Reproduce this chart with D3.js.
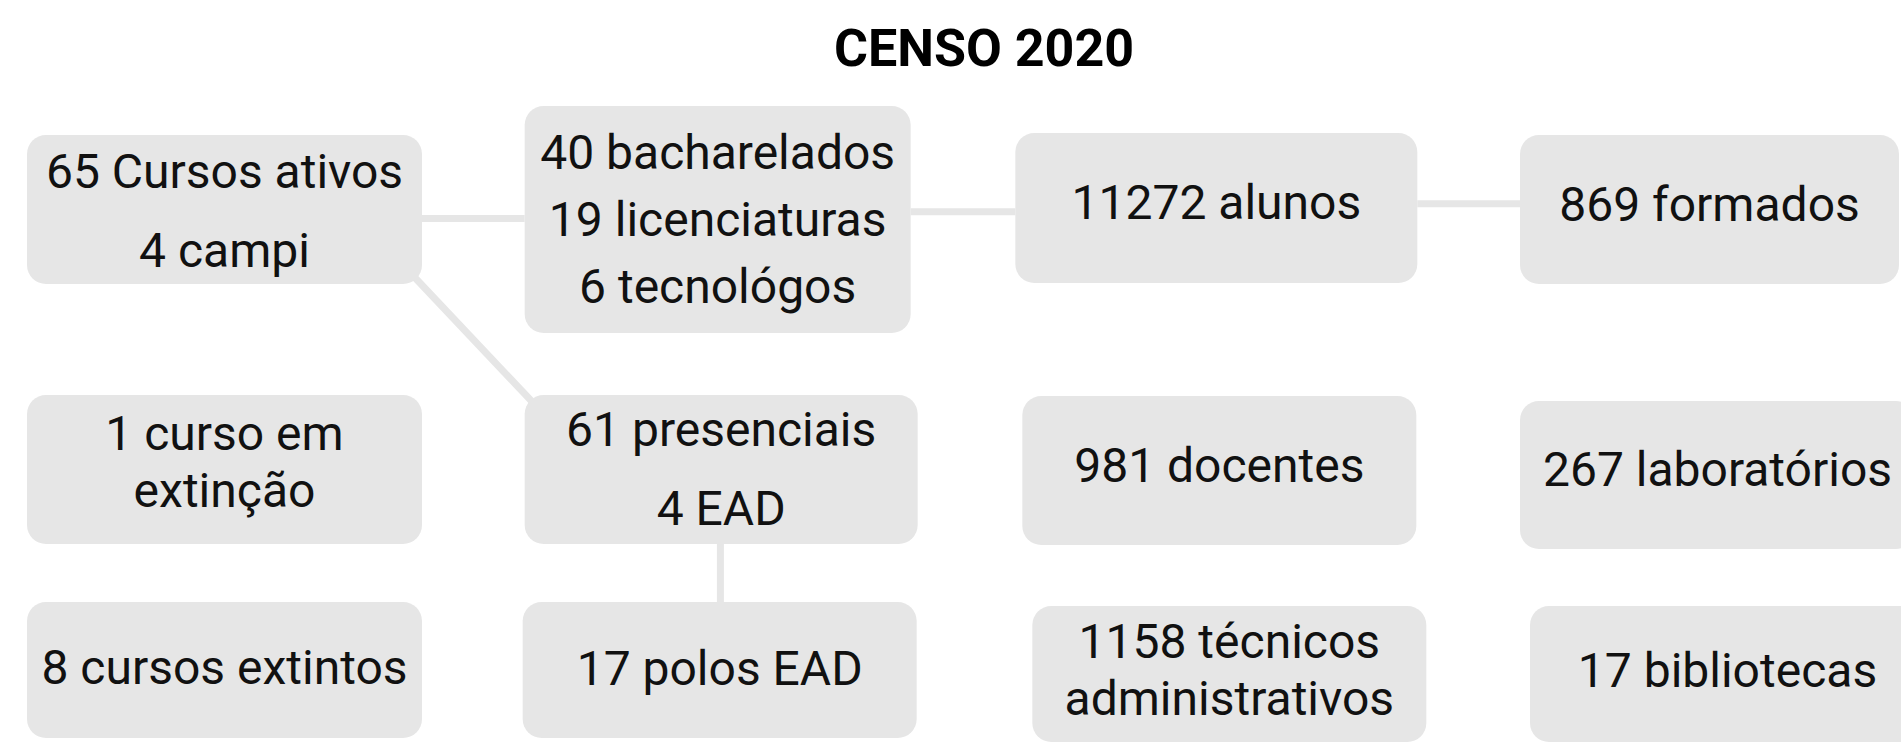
<!DOCTYPE html>
<html>
<head>
<meta charset="utf-8">
<script src="https://cdn.jsdelivr.net/npm/d3@7"></script>
<style>
  html, body { margin: 0; padding: 0; background: #fff; overflow: hidden; }
  text { font-family: Roboto, "Noto Sans", sans-serif; }
</style>
</head>
<body>
<div id="chart"></div>
<script>
// data
var title = "CENSO 2020";

var nodeIds = ["cursos", "tipos", "alunos", "formados",
               "extincao", "modalidade", "docentes", "laboratorios",
               "extintos", "polos", "tecnicos", "bibliotecas"];

var nodeLabels = [
    ["65 Cursos ativos", "4 campi"],
    ["40 bacharelados", "19 licenciaturas", "6 tecnológos"],
    ["11272 alunos"],
    ["869 formados"],
    ["1 curso em", "extinção"],
    ["61 presenciais", "4 EAD"],
    ["981 docentes"],
    ["267 laboratórios"],
    ["8 cursos extintos"],
    ["17 polos EAD"],
    ["1158 técnicos", "administrativos"],
    ["17 bibliotecas"]
];

var links = [
    ["cursos", "tipos"],
    ["tipos", "alunos"],
    ["alunos", "formados"],
    ["cursos", "modalidade"],
    ["modalidade", "polos"]
];
var linkShift = [4, -2, -5, 0, 0];

// layout (grid cell + small nudges)
var layout = [
    {col: 0, row: 0, dx: 0,  dy: 0,   w: 395, h: 149, lh: 79, ty: 1},
    {col: 1, row: 0, dx: 0,  dy: -29, w: 386, h: 227, lh: 67, ty: -1},
    {col: 2, row: 0, dx: -7, dy: -2,  w: 402, h: 150, lh: 57, ty: -6},
    {col: 3, row: 0, dx: 0,  dy: 0,   w: 379, h: 149, lh: 57, ty: -6},
    {col: 0, row: 1, dx: 0,  dy: 0,   w: 395, h: 149, lh: 57, ty: -8},
    {col: 1, row: 1, dx: 0,  dy: 0,   w: 393, h: 149, lh: 79, ty: -1},
    {col: 2, row: 1, dx: 0,  dy: 1,   w: 394, h: 149, lh: 57, ty: -6},
    {col: 3, row: 1, dx: 0,  dy: 6,   w: 395, h: 148, lh: 57, ty: -6},
    {col: 0, row: 2, dx: 0,  dy: 0,   w: 395, h: 136, lh: 57, ty: -3},
    {col: 1, row: 2, dx: -2, dy: 0,   w: 394, h: 136, lh: 57, ty: -2},
    {col: 2, row: 2, dx: 10, dy: 4,   w: 394, h: 136, lh: 57, ty: -5},
    {col: 3, row: 2, dx: 10, dy: 4,   w: 395, h: 136, lh: 57, ty: -4}
];

var width = 1901;
var height = 744;
var boxColor = "#e6e6e6";
var radius = 19;

var colScale = d3.scaleLinear().domain([0, 3]).range([27, 1520]);
var rowScale = d3.scaleOrdinal().domain([0, 1, 2]).range([135, 395, 602]);

var nodes = nodeIds.map(function (id, i) {
    var l = layout[i];
    return {
        id: id,
        lines: nodeLabels[i],
        x: colScale(l.col) + l.dx,
        y: rowScale(l.row) + l.dy,
        w: l.w,
        h: l.h,
        lh: l.lh,
        ty: l.ty
    };
});
var byId = {};
nodes.forEach(function (n) { byId[n.id] = n; });

var svg = d3.select("#chart")
    .append("svg")
    .attr("width", width)
    .attr("height", height);

svg.append("text")
    .attr("x", 984)
    .attr("y", 66)
    .attr("text-anchor", "middle")
    .attr("font-size", 52)
    .attr("font-weight", 700)
    .attr("fill", "#000")
    .text(title);

// connectors go under the boxes
svg.selectAll("line.link")
    .data(links)
    .enter()
    .append("line")
    .attr("class", "link")
    .attr("stroke", boxColor)
    .attr("stroke-width", 7)
    .each(function (d, i) {
        var a = byId[d[0]], b = byId[d[1]];
        var sel = d3.select(this);
        if (a.y + a.h < b.y && a.x + a.w < b.x) {
            // diagonal, from corner arc to corner arc
            sel.attr("x1", a.x + a.w - radius).attr("y1", a.y + a.h - radius)
               .attr("x2", b.x + radius).attr("y2", b.y + radius);
        } else if (a.y + a.h < b.y) {
            var cx = (a.x + a.w / 2 + b.x + b.w / 2) / 2;
            sel.attr("x1", cx).attr("y1", a.y + a.h)
               .attr("x2", cx).attr("y2", b.y);
        } else {
            var cy = (a.y + a.h / 2 + b.y + b.h / 2) / 2 + linkShift[i];
            sel.attr("x1", a.x + a.w).attr("y1", cy)
               .attr("x2", b.x).attr("y2", cy);
        }
    });

var g = svg.selectAll("g.node")
    .data(nodes)
    .enter()
    .append("g")
    .attr("class", "node")
    .attr("transform", function (d) {
        return "translate(" + d.x + "," + d.y + ")";
    });

g.append("rect")
    .attr("width", function (d) { return d.w; })
    .attr("height", function (d) { return d.h; })
    .attr("rx", radius)
    .attr("ry", radius)
    .attr("fill", boxColor);

g.each(function (d) {
    var n = d.lines.length;
    var t = d3.select(this).append("text")
        .attr("text-anchor", "middle")
        .attr("font-size", 48)
        .attr("fill", "#111");
    t.selectAll("tspan")
        .data(d.lines)
        .enter()
        .append("tspan")
        .attr("x", d.w / 2)
        .attr("y", function (s, i) {
            return d.h / 2 + d.ty + 17 + (i - (n - 1) / 2) * d.lh;
        })
        .text(function (s) { return s; });
});
</script>
</body>
</html>
